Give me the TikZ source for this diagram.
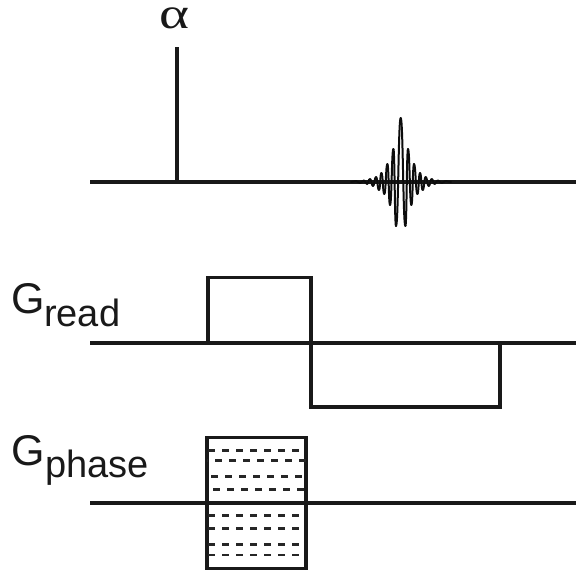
\documentclass[tikz,border=0pt]{standalone}
\usepackage{fontspec}
\setmainfont{Liberation Sans}
\newfontfamily\alphafont{Liberation Serif}
\begin{document}
\begin{tikzpicture}[x=1pt,y=-1pt,
  wave/.style={line width=3.2pt,color=black!90,line join=miter},
  echo/.style={line width=2pt,color=black!95,line cap=round},
  ticks/.style={line width=2.6pt,color=black!85,dash pattern=on 7pt off 7pt},
  big/.style={font=\fontsize{43}{43}\selectfont,inner sep=0pt,anchor=base west,text=black!90},
  small/.style={font=\fontsize{38}{38}\selectfont,inner sep=0pt,anchor=base west,text=black!90}]
\useasboundingbox (0,0) rectangle (576,573);
% RF
\coordinate (r0) at (90,182);
\coordinate (r1) at (576,182);
\coordinate (pb) at (177,182);
\coordinate (pt) at (177,47);
\draw[wave] (r0) -- (r1);
\draw[wave] (pb) -- (pt);
\node[inner sep=0pt,anchor=base,xscale=1.3,font=\alphafont\fontsize{44}{44}\selectfont,text=black!90] (alpha) at (174.5,28) {α};
% echo: half-cycles between successive extrema
\foreach \x/\y [remember=\x as \p (initially 351), remember=\y as \q (initially 182)] in {
  356/181,360/183,364/180.5,367/184,370/179,373/186,376/177,379/190,381.4/173,384.3/194,
  387.4/164,390/205,393.4/149,396/226,400.7/118,405.4/226,408/149,411.4/205,414/164,417.4/194,
  420/173,422.7/190,425.7/177,428.7/186,431.7/179,434.7/184,437.7/180.5,441.7/183,445.7/181,451/182}
  \draw[echo] (\p,\q) .. controls ({(\p+\x)/2},\q) and ({(\p+\x)/2},\y) .. (\x,\y);
\node[small] (read) at (44,326) {read};
\node[big] (gr) at (11,313) {G};
% Gread
\coordinate (g0) at (90,343);
\coordinate (g1) at (576,343);
\draw[wave] (g0) -- (g1);
\draw[wave] (208,343) -- (208,277.5) -- (311,277.5) -- (311,407) -- (500,407) -- (500,343);
% Gphase
\coordinate (h0) at (90,503);
\coordinate (h1) at (576,503);
\draw[wave] (h0) -- (h1);
\draw[wave] (207,437.5) rectangle (306,568.5);
\begin{scope}
\clip (207,437.5) rectangle (306,568.5);
\foreach \y/\s in {450.3/208,460.7/201,476.7/197,489.3/199.3,515.7/208,528.7/208,544.3/208,555/208}
  \draw[ticks] (\s,\y) -- (310,\y);
\end{scope}
\node[big] (gp) at (11,465) {G};
\node[small] (phase) at (45,477) {phase};
\end{tikzpicture}
\end{document}
